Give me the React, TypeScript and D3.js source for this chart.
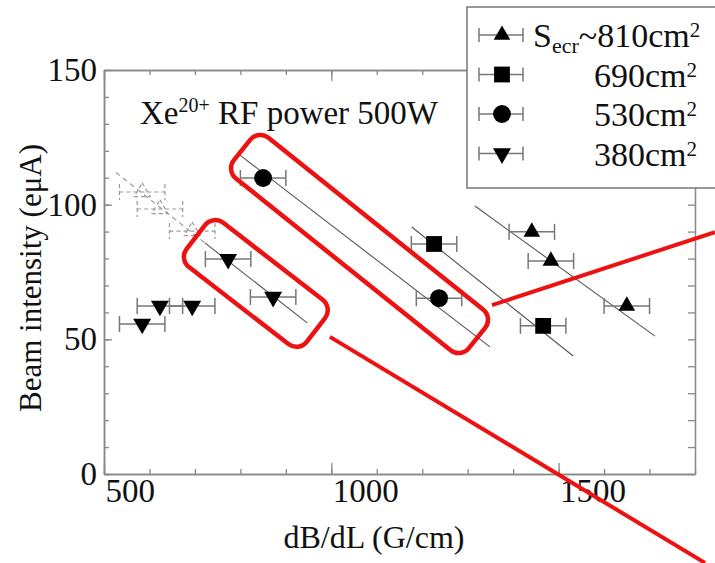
import React, { useEffect, useRef } from "react";
import * as d3 from "d3";

// axis ranges and ticks
const xDomain = [500, 1800];
const yDomain = [0, 150];
const xMajor = [500, 1000, 1500];
const xMinor = d3.range(500, 1801, 100);
const yMajor = [0, 50, 100, 150];
const yMinor = d3.range(0, 151, 10);

// measured points, dB/dL (G/cm) vs beam intensity (eμA)
const x810 = [1441, 1483, 1650];
const y810 = [89.9, 79.1, 62.4];
const x690 = [1226, 1466];
const y690 = [85.4, 55.0];
const x530 = [850, 1237];
const y530 = [109.9, 65.3];
const x380 = [584, 623, 694, 773, 872];
const y380 = [55.7, 62.4, 62.4, 79.8, 65.7];
const xErr = 50;

// fitted lines (start / end)
const fit810 = [[1316, 99.5], [1712, 51.2]];
const fit690 = [[1177, 91.7], [1532, 43.8]];
const fit530 = [[799, 118.4], [1349, 47.2]];
const fit380 = [[722, 85.8], [947, 56.1]];

// dashed projection of the 380cm2 points
const xGhost = [584, 623, 694];
const yGhost = [104.7, 98.4, 90.2];
const ghostLine = [[526, 112], [722, 85.8]];

const legendLabels = ["~810cm", "690cm", "530cm", "380cm"];

// red call-outs, given as axis end points in data units
const bigBox = [[803.6, 120.3], [1320.5, 50.5]];
const smallBox = [[702, 88.0], [966, 53.5]];
const redLine1 = [[1353.5, 62.7], [1844, 89.8]];
const redLine2 = [[997, 50.9], [1822, -33]];

const FONT = '"Liberation Serif", "Times New Roman", serif';
const RED = "#ee1111";

export default function App() {
  const ref = useRef<SVGSVGElement>(null);

  useEffect(() => {
    const svg = d3.select(ref.current);
    svg.selectAll("*").remove();

    const x = d3.scaleLinear().domain(xDomain).range([104, 695]);
    const y = d3.scaleLinear().domain(yDomain).range([474, 70]);

    svg.append("rect").attr("width", 715).attr("height", 563).attr("fill", "#fff");

    // frame + ticks on all four sides, pointing inward
    const styleAxis = (g: any) => {
      g.attr("font-family", FONT);
      g.select(".domain").attr("stroke", "#888").attr("stroke-width", 1.5);
      g.selectAll(".tick line").attr("stroke", "#888").attr("stroke-width", 1.3);
      g.selectAll("text").attr("fill", "#111").attr("font-family", FONT).attr("font-size", 33);
    };
    const none = () => "";

    svg.append("g").attr("transform", `translate(0,${y(0)})`)
      .call(d3.axisBottom(x).tickValues(xMinor).tickSize(-5).tickSizeOuter(0).tickFormat(none))
      .call(styleAxis);
    svg.append("g").attr("transform", `translate(0,${y(0)})`)
      .call(d3.axisBottom(x).tickValues(xMajor).tickSize(-11).tickSizeOuter(0).tickPadding(6).tickFormat(d3.format("d")))
      .call(styleAxis)
      .call(g => g.selectAll("text").attr("text-anchor", "start").attr("dx", 1).attr("dy", "0.68em"));
    svg.append("g").attr("transform", `translate(0,${y(150)})`)
      .call(d3.axisTop(x).tickValues(xMinor).tickSize(-5).tickSizeOuter(0).tickFormat(none))
      .call(styleAxis);
    svg.append("g").attr("transform", `translate(0,${y(150)})`)
      .call(d3.axisTop(x).tickValues(xMajor).tickSize(-11).tickSizeOuter(0).tickFormat(none))
      .call(styleAxis);

    svg.append("g").attr("transform", `translate(${x(500)},0)`)
      .call(d3.axisLeft(y).tickValues(yMinor).tickSize(-5).tickSizeOuter(0).tickFormat(none))
      .call(styleAxis);
    svg.append("g").attr("transform", `translate(${x(500)},0)`)
      .call(d3.axisLeft(y).tickValues(yMajor).tickSize(-8).tickSizeOuter(0).tickPadding(7).tickFormat(d3.format("d")))
      .call(styleAxis);
    svg.append("g").attr("transform", `translate(${x(1800)},0)`)
      .call(d3.axisRight(y).tickValues(yMinor).tickSize(-7).tickSizeOuter(0).tickFormat(none))
      .call(styleAxis);

    // axis titles
    svg.append("text")
      .attr("x", 374).attr("y", 548)
      .attr("text-anchor", "middle").attr("font-family", FONT).attr("font-size", 32).attr("fill", "#111")
      .text("dB/dL (G/cm)");
    svg.append("text")
      .attr("transform", `translate(41,${(y(0) + y(150)) / 2 + 6}) rotate(-90)`)
      .attr("text-anchor", "middle").attr("font-family", FONT).attr("font-size", 31).attr("fill", "#111")
      .text("Beam intensity (eμA)");

    // fit lines
    const line = d3.line<number[]>().x(d => x(d[0])).y(d => y(d[1]));
    [fit810, fit690, fit530, fit380].forEach(f => {
      svg.append("path").attr("d", line(f)).attr("fill", "none").attr("stroke", "#555").attr("stroke-width", 1.1);
    });

    // error bars
    const errBars = (xs: number[], ys: number[], dashed: boolean) => {
      xs.forEach((v, i) => {
        const g = svg.append("g")
          .attr("stroke", dashed ? "#999" : "#777")
          .attr("stroke-width", dashed ? 1.2 : 1.5)
          .attr("stroke-dasharray", dashed ? "4,3" : null);
        const cy = y(ys[i]);
        g.append("line").attr("x1", x(v - xErr)).attr("x2", x(v + xErr)).attr("y1", cy).attr("y2", cy);
        g.append("line").attr("x1", x(v - xErr)).attr("x2", x(v - xErr)).attr("y1", cy - 8).attr("y2", cy + 8);
        g.append("line").attr("x1", x(v + xErr)).attr("x2", x(v + xErr)).attr("y1", cy - 8).attr("y2", cy + 8);
      });
    };

    // dashed projection
    svg.append("path").attr("d", line(ghostLine)).attr("fill", "none")
      .attr("stroke", "#999").attr("stroke-width", 1.2).attr("stroke-dasharray", "5,4");
    errBars(xGhost, yGhost, true);
    xGhost.forEach((v, i) => {
      svg.append("path")
        .attr("d", d3.symbol().type(d3.symbolTriangle).size(110)())
        .attr("transform", `translate(${x(v)},${y(yGhost[i])})`)
        .attr("fill", "none").attr("stroke", "#999").attr("stroke-width", 1.2).attr("stroke-dasharray", "4,3");
    });

    const series = [
      { xs: x810, ys: y810, type: d3.symbolTriangle, size: 120, rot: 0 },
      { xs: x690, ys: y690, type: d3.symbolSquare, size: 250, rot: 0 },
      { xs: x530, ys: y530, type: d3.symbolCircle, size: 250, rot: 0 },
      { xs: x380, ys: y380, type: d3.symbolTriangle, size: 140, rot: 180 },
    ];
    series.forEach(s => {
      errBars(s.xs, s.ys, false);
      s.xs.forEach((v, i) => {
        svg.append("path")
          .attr("d", d3.symbol().type(s.type).size(s.size)())
          .attr("transform", `translate(${x(v)},${y(s.ys[i])}) rotate(${s.rot})`)
          .attr("fill", "#000");
      });
    });

    // in-plot title
    const title = svg.append("text").attr("x", 140).attr("y", 124)
      .attr("font-family", FONT).attr("font-size", 33).attr("fill", "#111");
    title.append("tspan").text("Xe");
    title.append("tspan").attr("dy", -12).attr("font-size", 20).text("20+");
    title.append("tspan").attr("dy", 12).text(" RF power 500W");

    // legend
    const lg = svg.append("g");
    lg.append("rect").attr("x", 467).attr("y", 7).attr("width", 260).attr("height", 181)
      .attr("fill", "#fff").attr("stroke", "#777").attr("stroke-width", 1.5);
    series.forEach((s, i) => {
      const cy = 35 + i * 39.5;
      const g = lg.append("g").attr("stroke", "#777").attr("stroke-width", 1.5);
      g.append("line").attr("x1", 479).attr("x2", 523).attr("y1", cy).attr("y2", cy);
      g.append("line").attr("x1", 479).attr("x2", 479).attr("y1", cy - 7).attr("y2", cy + 7);
      g.append("line").attr("x1", 523).attr("x2", 523).attr("y1", cy - 7).attr("y2", cy + 7);
      lg.append("path")
        .attr("d", d3.symbol().type(s.type).size(s.size)())
        .attr("transform", `translate(502,${cy}) rotate(${s.rot})`)
        .attr("fill", "#000");
      const t = lg.append("text").attr("y", cy + 12)
        .attr("font-family", FONT).attr("font-size", 34).attr("fill", "#111");
      if (i === 0) {
        t.attr("x", 533);
        t.append("tspan").text("S");
        t.append("tspan").attr("dy", 6).attr("font-size", 22).text("ecr");
        t.append("tspan").attr("dy", -6).text(legendLabels[i]);
      } else {
        t.attr("x", 697).attr("text-anchor", "end");
        t.append("tspan").text(legendLabels[i]);
      }
      t.append("tspan").attr("dy", -10).attr("font-size", 21).text("2");
    });

    // red call-outs
    const box = (ends: number[][], w: number) => {
      const x1 = x(ends[0][0]), y1 = y(ends[0][1]);
      const x2 = x(ends[1][0]), y2 = y(ends[1][1]);
      const len = Math.hypot(x2 - x1, y2 - y1);
      const ang = (Math.atan2(y2 - y1, x2 - x1) * 180) / Math.PI;
      svg.append("rect")
        .attr("x", -len / 2).attr("y", -w / 2).attr("width", len).attr("height", w)
        .attr("rx", 13).attr("fill", "none").attr("stroke", RED).attr("stroke-width", 4.5)
        .attr("transform", `translate(${(x1 + x2) / 2},${(y1 + y2) / 2}) rotate(${ang})`);
    };
    box(bigBox, 52);
    box(smallBox, 56);
    [redLine1, redLine2].forEach(l => {
      svg.append("path").attr("d", line(l)).attr("fill", "none").attr("stroke", RED).attr("stroke-width", 4);
    });
  }, []);

  return (
    <svg
      ref={ref}
      width={715}
      height={563}
      style={{ position: "absolute", left: 0, top: 0, display: "block" }}
    />
  );
}
